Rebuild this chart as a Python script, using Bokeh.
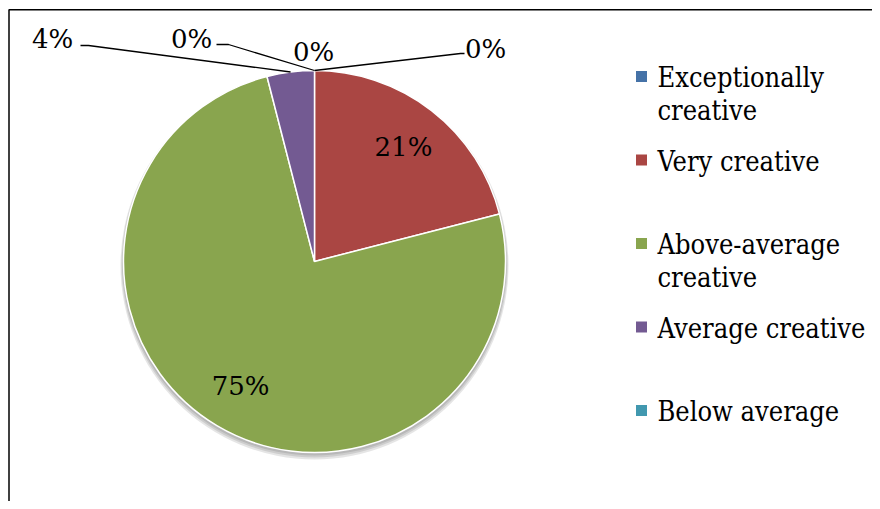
import math
from bokeh.plotting import figure
from bokeh.models import Range1d, ColumnDataSource
from bokeh.core.properties import value
from bokeh.embed import file_html
from bokeh.resources import INLINE

# ---- data ----
categories = ["Exceptionally creative", "Very creative", "Above-average creative",
              "Average creative", "Below average", ""]
values = [0, 21, 75, 4, 0, 0]
pct_labels = ["0%", "21%", "75%", "4%", "0%", "0%"]
legend_names = ["Exceptionally\ncreative", "Very creative", "Above-average\ncreative",
                "Average creative", "Below average"]
colors = ["#4572A7", "#AA4643", "#89A54E", "#735A92", "#4198AF", "#DB843D"]

# ---- layout (screen pixel coords, converted below) ----
W, H = 872, 501
def px(x):
    return x
def py(y):
    return H - y

CX, CY, R = px(314), py(261), 191
FONT = value("DejaVu Serif")
FS = "26px"

p = figure(width=W, height=H, output_backend="svg", toolbar_location=None,
           x_range=Range1d(0, W), y_range=Range1d(0, H), min_border=0,
           outline_line_color=None, background_fill_color="white",
           border_fill_color="white")
p.axis.visible = False
p.grid.visible = False

# chart border (top and left visible in crop)
p.line([px(8.5), px(8.5), W], [0, py(9.3), py(9.3)], line_color="black", line_width=1.5)

# shadow
for i, a in enumerate([0.10, 0.10, 0.10]):
    p.circle(x=[CX], y=[CY - 2 - i], radius=R + 1 + i, fill_color="black",
             fill_alpha=a, line_color=None)

# wedges
total = sum(values)
starts, ends, mids = [], [], []
cum = 0.0
for v in values:
    a0 = math.pi / 2 - 2 * math.pi * cum / total
    cum += v
    a1 = math.pi / 2 - 2 * math.pi * cum / total
    starts.append(a0)
    ends.append(a1)
    mids.append((a0 + a1) / 2)

nz = [i for i, v in enumerate(values) if v > 0]
src = ColumnDataSource(dict(
    start=[starts[i] for i in nz], end=[ends[i] for i in nz],
    color=[colors[i] for i in nz]))
p.wedge(x=CX, y=CY, radius=R, start_angle="start", end_angle="end",
        direction="clock", fill_color="color", line_color="white",
        line_width=1.5, source=src)

# inside labels
inside_r = 0.76
for i in nz:
    if values[i] >= 10:
        lx = CX + inside_r * R * math.cos(mids[i])
        ly = CY + inside_r * R * math.sin(mids[i])
        p.text(x=[lx], y=[ly], text=[pct_labels[i]], text_font=FONT,
               text_font_size=FS, text_align="center", text_baseline="middle",
               text_color="black", text_font_style="normal")

# outside labels with leader lines (label text centre, leader elbow points)
outside = {
    0: dict(pos=(485, 48), elbow=[(460, 53), (464, 53)]),
    3: dict(pos=(52, 38), elbow=[(88, 45), (80, 45)]),
    4: dict(pos=(191, 38), elbow=[(228, 44), (216, 44)]),
    5: dict(pos=(313, 51), elbow=None),
}
for i, spec in outside.items():
    ex = CX + R * math.cos(mids[i])
    ey = CY + R * math.sin(mids[i])
    if spec["elbow"]:
        xs = [ex] + [px(a) for a, b in spec["elbow"]]
        ys = [ey] + [py(b) for a, b in spec["elbow"]]
        p.line(xs, ys, line_color="black", line_width=1.3)
    p.text(x=[px(spec["pos"][0])], y=[py(spec["pos"][1])], text=[pct_labels[i]],
           text_font=FONT, text_font_size=FS, text_align="center",
           text_baseline="middle", text_color="black")

# legend
LEG_FONT = value("DejaVu Serif Condensed, DejaVu Serif")
leg_y0, leg_dy = 76, 83.5
for k, name in enumerate(legend_names):
    yc = leg_y0 + k * leg_dy
    p.scatter(x=[px(641)], y=[py(yc)], marker="square", size=11,
              fill_color=colors[k], line_color=None)
    for j, line in enumerate(name.split("\n")):
        p.text(x=[px(657)], y=[py(yc + 1 + j * 33)], text=[line], text_font=LEG_FONT,
               text_font_size="27px", text_align="left", text_baseline="middle",
               text_color="black")

open("out.html", "w").write(file_html(p, INLINE))
